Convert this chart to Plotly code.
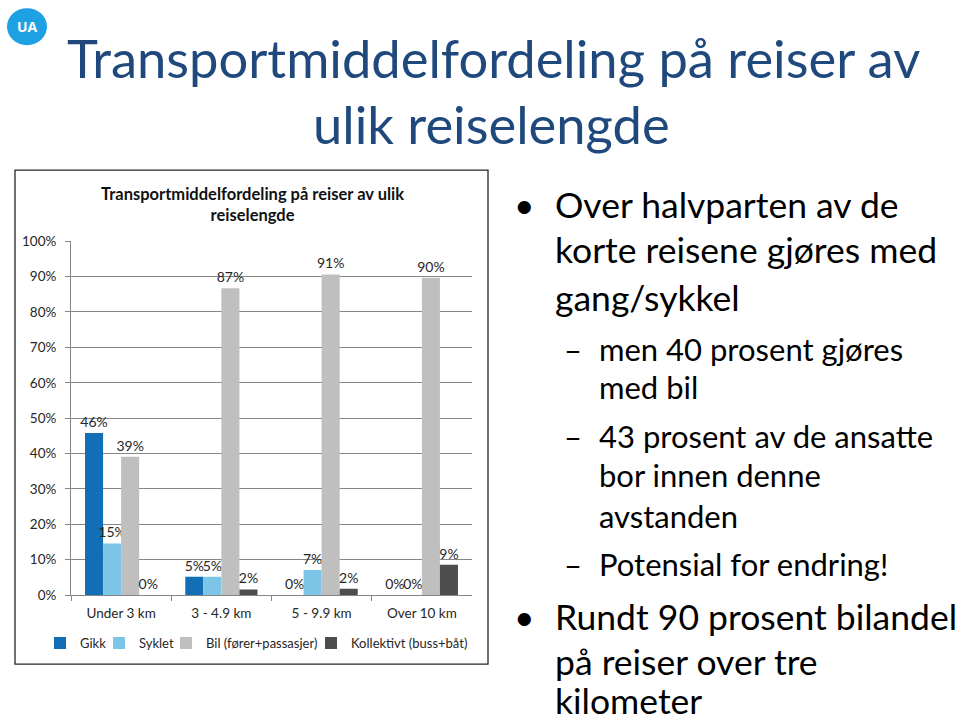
import plotly.graph_objects as go

W, H = 960, 724

categories = ["Under 3 km", "3 - 4.9 km", "5 - 9.9 km", "Over 10 km"]
gikk = [45.8, 5.2, 0, 0]
syklet = [14.6, 5.2, 7.1, 0]
bil = [39.1, 86.7, 90.6, 89.7]
kollektiv = [0, 1.6, 1.8, 8.6]

series_names = ["Gikk", "Syklet", "Bil (fører+passasjer)", "Kollektivt (buss+båt)"]
series_values = [gikk, syklet, bil, kollektiv]
series_colors = ["#126FB6", "#7DC5E6", "#BFBFBF", "#4D4D4D"]
legend_widths = [14, 22, 100, 0]

y_ticks = [0, 10, 20, 30, 40, 50, 60, 70, 80, 90, 100]

slide_title = ["Transportmiddelfordeling på reiser av", "ulik reiselengde"]
chart_title = "Transportmiddelfordeling på reiser av ulik<br>reiselengde"

FONT = "Lato"

# the page capture adds a small top offset and compresses vertically; compensate
Y_OFF, Y_SCALE = 7.8, 0.978


def px(x):
    return x / W


def py(y):
    return 1 - ((y - Y_OFF) / Y_SCALE) / H


fig = go.Figure()
for name, vals, col, lw in zip(series_names, series_values, series_colors, legend_widths):
    fig.add_trace(go.Bar(
        x=categories, y=vals, name=name, marker_color=col,
        marker_line_width=0,
        texttemplate="%{y:.0f}%", textposition="outside",
        textfont=dict(size=14, color="#262626", family=FONT),
        cliponaxis=False, constraintext="none",
        legendwidth=lw if lw else None,
    ))

fig.update_layout(
    width=W, height=H,
    margin=dict(l=0, r=0, t=0, b=0),
    paper_bgcolor="white", plot_bgcolor="white",
    barmode="group", bargap=0.28, bargroupgap=0,
    font=dict(family=FONT, color="#262626"),
    showlegend=True,
    legend=dict(orientation="h", x=px(40), xanchor="left", y=py(643), yanchor="middle",
                font=dict(size=13, family=FONT, color="#262626"),
                itemwidth=30, tracegroupgap=0, traceorder="normal", bgcolor="rgba(0,0,0,0)"),
    xaxis=dict(domain=[px(71), px(472)], showline=True, linecolor="#868686", linewidth=1,
               ticks="outside", tickson="boundaries", ticklen=5, tickcolor="#868686",
               ticklabelstandoff=6,
               tickfont=dict(size=13.5, family=FONT, color="#262626"), showgrid=False),
    yaxis=dict(domain=[py(595), py(241)], range=[0, 100], tickvals=y_ticks,
               ticktext=[f"{v}%" for v in y_ticks],
               showline=True, linecolor="#868686", linewidth=1,
               ticks="outside", ticklen=5, tickcolor="#868686",
               ticklabelstandoff=6,
               gridcolor="#868686", gridwidth=1, zeroline=False,
               tickfont=dict(size=13.5, family=FONT, color="#262626")),
)

shapes = [
    # chart frame
    dict(type="rect", xref="paper", yref="paper", x0=px(15), x1=px(488), y0=py(664), y1=py(170),
         line=dict(color="#262626", width=1.3), fillcolor="rgba(0,0,0,0)", layer="below"),
    # UA badge
    dict(type="circle", xref="paper", yref="paper", x0=px(7), x1=px(47), y0=py(45), y1=py(8),
         line=dict(width=0), fillcolor="#1DA1E2"),
]
fig.update_layout(shapes=shapes)

ann = []
ann.append(dict(text="<b>UA</b>", x=px(27), y=py(26), font=dict(size=14, color="white", family="Open Sans")))
ann.append(dict(text=slide_title[0], x=px(493), y=py(57), font=dict(size=52.5, color="#1F497D", family=FONT)))
ann.append(dict(text=slide_title[1], x=px(491), y=py(123), font=dict(size=52.5, color="#1F497D", family=FONT)))
ann.append(dict(text="<b>" + chart_title + "</b>", x=px(252), y=py(204),
                font=dict(size=16.5, color="#111111", family=FONT)))

main_lines = [
    ("Over halvparten av de", 204), ("korte reisene gjøres med", 249), ("gang/sykkel", 297),
]
sub_lines = [
    ("men 40 prosent gjøres", 349, True), ("med bil", 387, False),
    ("43 prosent av de ansatte", 436, True), ("bor innen denne", 475, False), ("avstanden", 516, False),
    ("Potensial for endring!", 564, True),
]
main2_lines = [("Rundt 90 prosent bilandel", 616), ("på reiser over tre", 661), ("kilometer", 700)]

MAIN_SIZE = 35.5
SUB_SIZE = 31
for t, y in main_lines:
    ann.append(dict(text=t, x=px(553), y=py(y), xanchor="left", font=dict(size=MAIN_SIZE, color="black", family=FONT)))
ann.append(dict(text="•", x=px(524), y=py(204), font=dict(size=MAIN_SIZE, color="black", family=FONT)))
for t, y, dash in sub_lines:
    ann.append(dict(text=t, x=px(597), y=py(y), xanchor="left", font=dict(size=SUB_SIZE, color="black", family=FONT)))
    if dash:
        ann.append(dict(text="–", x=px(573), y=py(y), font=dict(size=SUB_SIZE, color="black", family=FONT)))
for t, y in main2_lines:
    ann.append(dict(text=t, x=px(553), y=py(y), xanchor="left", font=dict(size=MAIN_SIZE, color="black", family=FONT)))
ann.append(dict(text="•", x=px(524), y=py(616), font=dict(size=MAIN_SIZE, color="black", family=FONT)))

for a in ann:
    a.setdefault("xref", "paper")
    a.setdefault("yref", "paper")
    a.setdefault("showarrow", False)
    a.setdefault("xanchor", "center")
    a.setdefault("yanchor", "middle")
fig.update_layout(annotations=ann)

fig.write_html(
    "out.html",
    config={"displayModeBar": False},
    post_script=(
        "document.documentElement.style.margin='0';"
        "document.documentElement.style.overflow='hidden';"
        "document.body.style.margin='0';document.body.style.overflow='hidden';"
        "var gd=document.getElementById('{plot_id}');"
        "gd.style.position='fixed';gd.style.top='0px';gd.style.left='0px';"
    ),
)
